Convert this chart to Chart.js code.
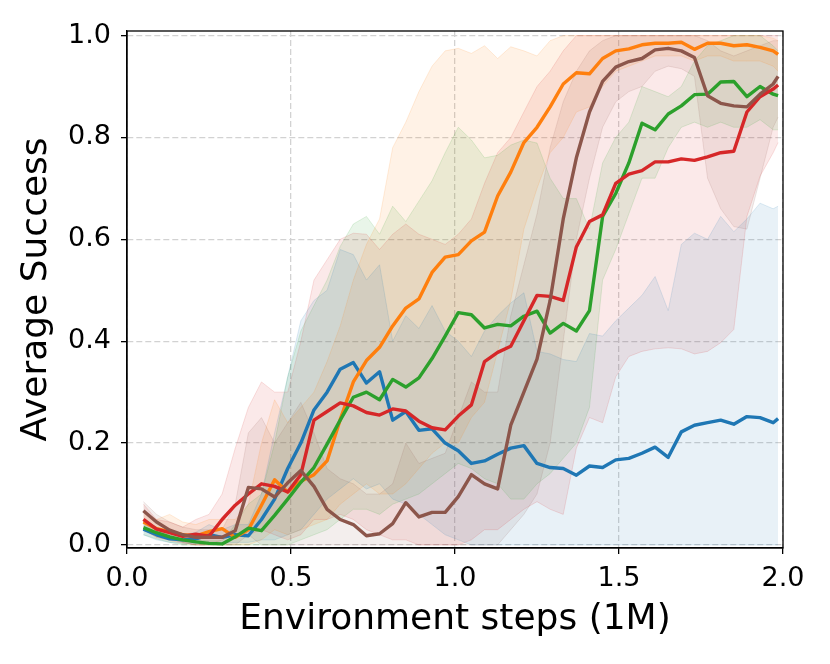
<!DOCTYPE html>
<html><head><meta charset="utf-8">
<script src="https://cdn.jsdelivr.net/npm/chart.js@4.4.1/dist/chart.umd.min.js"></script>
<style>html,body{margin:0;padding:0;background:#fff;} #wrap{width:830px;height:664px;}</style>
</head><body><div id="wrap"><canvas id="c" width="830" height="664"></canvas></div>
<script>
const steps = [0.05,0.09,0.13,0.17,0.21,0.25,0.29,0.33,0.37,0.41,0.45,0.49,0.53,0.57,0.61,0.65,0.69,0.73,0.77,0.81,0.85,0.89,0.93,0.97,1.01,1.05,1.09,1.13,1.17,1.21,1.25,1.29,1.33,1.37,1.41,1.45,1.49,1.53,1.57,1.61,1.65,1.69,1.73,1.77,1.81,1.85,1.89,1.93,1.97,1.985];

const blueMean = [0.031,0.02,0.012,0.01,0.012,0.02,0.015,0.02,0.018,0.05,0.09,0.15,0.2,0.265,0.3,0.345,0.358,0.318,0.34,0.245,0.262,0.225,0.228,0.2,0.185,0.16,0.165,0.178,0.19,0.195,0.16,0.152,0.15,0.137,0.155,0.152,0.167,0.17,0.18,0.192,0.172,0.222,0.235,0.24,0.245,0.237,0.252,0.25,0.24,0.248];
const blueLow = [0.02,0.01,0.005,0.003,0.003,0.005,0.003,0.005,0.005,0.01,0.01,0.02,0.03,0.06,0.09,0.11,0.13,0.11,0.12,0.09,0.08,0.06,0.04,0.02,0.01,0,0,0,0,0,0,0,0,0,0,0,0,0,0,0,0,0,0,0,0,0,0,0,0,0];
const blueHigh = [0.04,0.03,0.02,0.02,0.025,0.04,0.03,0.04,0.04,0.1,0.22,0.33,0.44,0.48,0.5,0.58,0.57,0.52,0.55,0.4,0.45,0.425,0.47,0.42,0.4,0.37,0.42,0.45,0.475,0.495,0.38,0.375,0.364,0.36,0.415,0.41,0.44,0.465,0.49,0.527,0.46,0.59,0.612,0.6,0.645,0.615,0.64,0.671,0.66,0.665];

const orangeMean = [0.045,0.032,0.026,0.02,0.018,0.026,0.032,0.015,0.03,0.078,0.128,0.104,0.125,0.138,0.165,0.246,0.32,0.362,0.388,0.43,0.465,0.483,0.535,0.565,0.57,0.597,0.614,0.685,0.732,0.79,0.82,0.86,0.905,0.927,0.925,0.955,0.97,0.974,0.982,0.985,0.985,0.987,0.973,0.985,0.985,0.98,0.982,0.977,0.97,0.963];
const orangeLow = [0.03,0.015,0.008,0.003,0,0,0,0,0,0.01,0.03,0.02,0.03,0.04,0.05,0.08,0.1,0.12,0.1,0.1,0.12,0.15,0.18,0.2,0.2,0.25,0.28,0.38,0.48,0.62,0.7,0.77,0.8,0.85,0.86,0.9,0.93,0.94,0.95,0.96,0.96,0.96,0.95,0.96,0.96,0.95,0.95,0.95,0.94,0.93];
const orangeHigh = [0.065,0.05,0.06,0.045,0.04,0.05,0.05,0.05,0.08,0.2,0.285,0.24,0.27,0.3,0.36,0.43,0.52,0.59,0.64,0.78,0.83,0.89,0.94,0.97,0.975,0.965,0.98,0.955,0.978,0.97,0.96,0.99,1,1,1,1,1,1,1,1,1,1,1,1,1,1,1,1,0.995,0.99];

const greenMean = [0.034,0.024,0.016,0.01,0.006,0.003,0.002,0.016,0.033,0.028,0.058,0.09,0.123,0.152,0.198,0.245,0.29,0.3,0.285,0.325,0.31,0.328,0.366,0.41,0.456,0.452,0.426,0.433,0.43,0.449,0.459,0.416,0.435,0.42,0.46,0.645,0.69,0.75,0.828,0.815,0.846,0.862,0.884,0.885,0.909,0.91,0.88,0.9,0.885,0.882];
const greenLow = [0.02,0.012,0.005,0,0,0,0,0,0,0,0,0,0.01,0.02,0.03,0.05,0.07,0.07,0.06,0.08,0.09,0.1,0.12,0.14,0.16,0.15,0.13,0.12,0.09,0.09,0.12,0.14,0.17,0.2,0.27,0.52,0.58,0.65,0.72,0.72,0.78,0.82,0.83,0.82,0.83,0.82,0.82,0.835,0.815,0.815];
const greenHigh = [0.05,0.035,0.025,0.015,0.01,0.008,0.008,0.04,0.08,0.1,0.2,0.33,0.42,0.47,0.52,0.586,0.63,0.645,0.61,0.665,0.635,0.675,0.715,0.77,0.82,0.795,0.76,0.765,0.785,0.795,0.789,0.72,0.68,0.68,0.62,0.75,0.8,0.83,0.9,0.89,0.88,0.9,0.95,0.98,0.99,1,1,1,0.98,0.97];

const redMean = [0.05,0.031,0.024,0.017,0.021,0.017,0.05,0.078,0.1,0.12,0.115,0.104,0.138,0.245,0.262,0.279,0.273,0.26,0.255,0.267,0.263,0.243,0.23,0.226,0.253,0.275,0.36,0.378,0.39,0.44,0.49,0.488,0.48,0.585,0.635,0.648,0.71,0.728,0.735,0.752,0.752,0.758,0.755,0.762,0.77,0.773,0.85,0.88,0.895,0.903];
const redLow = [0.03,0.015,0.01,0.005,0,0,0.01,0.02,0.02,0.03,0.02,0.01,0.02,0.05,0.05,0.06,0.05,0.03,0.02,0.01,0.01,0,0,0,0,0.01,0.03,0.03,0.05,0.07,0.085,0.07,0.06,0.19,0.25,0.24,0.33,0.37,0.38,0.385,0.387,0.385,0.375,0.38,0.397,0.423,0.645,0.724,0.77,0.79];
const redHigh = [0.08,0.05,0.045,0.035,0.05,0.06,0.1,0.19,0.27,0.32,0.3,0.3,0.4,0.52,0.56,0.6,0.612,0.61,0.58,0.61,0.63,0.61,0.6,0.59,0.61,0.64,0.71,0.77,0.8,0.85,0.9,0.93,0.97,1,1,1,1,1,1,1,1,1,1,1,1,1,1,1,1,1];

const brownMean = [0.067,0.045,0.029,0.02,0.015,0.015,0.015,0.028,0.113,0.11,0.094,0.122,0.146,0.115,0.07,0.05,0.04,0.018,0.022,0.042,0.083,0.055,0.064,0.064,0.095,0.138,0.12,0.11,0.235,0.3,0.365,0.48,0.64,0.76,0.85,0.91,0.938,0.949,0.955,0.972,0.975,0.97,0.957,0.882,0.867,0.862,0.86,0.885,0.905,0.92];
const brownLow = [0.05,0.03,0.015,0.005,0,0,0,0,0.02,0,0,0,0,0,0,0,0,0,0,0,0,0,0,0,0,0,0,0,0.03,0.06,0.1,0.2,0.4,0.6,0.72,0.82,0.87,0.89,0.9,0.93,0.94,0.935,0.92,0.72,0.66,0.625,0.62,0.72,0.82,0.84];
const brownHigh = [0.085,0.06,0.045,0.035,0.03,0.03,0.03,0.08,0.22,0.25,0.2,0.24,0.28,0.22,0.15,0.13,0.12,0.1,0.1,0.12,0.2,0.16,0.17,0.18,0.25,0.32,0.3,0.3,0.45,0.55,0.65,0.78,0.87,0.93,0.97,0.99,1,1,1,1,1,1,1,0.99,0.97,0.96,0.97,0.98,0.99,0.99];

const xTicks = [0.0, 0.5, 1.0, 1.5, 2.0];
const yTicks = [0.0, 0.2, 0.4, 0.6, 0.8, 1.0];
const xLabel = 'Environment steps (1M)';
const yLabel = 'Average Success';

const series = [
  {rgb: [31,119,180],  mean: blueMean,   low: blueLow,   high: blueHigh},
  {rgb: [255,127,14],  mean: orangeMean, low: orangeLow, high: orangeHigh},
  {rgb: [44,160,44],   mean: greenMean,  low: greenLow,  high: greenHigh},
  {rgb: [214,39,40],   mean: redMean,    low: redLow,    high: redHigh},
  {rgb: [140,86,75],   mean: brownMean,  low: brownLow,  high: brownHigh}
];

const pts = arr => steps.map((x, i) => ({x: x, y: arr[i]}));
const rgba = (c, a) => `rgba(${c[0]},${c[1]},${c[2]},${a})`;

const datasets = [];
series.forEach((s, k) => {
  const lowIdx = datasets.length;
  datasets.push({data: pts(s.low), borderColor: rgba(s.rgb, 0.14), borderWidth: 1, pointRadius: 0, fill: false, order: 20 + k});
  datasets.push({data: pts(s.high), borderColor: rgba(s.rgb, 0.14), borderWidth: 1, pointRadius: 0, fill: lowIdx, backgroundColor: rgba(s.rgb, 0.1), order: 20 + k});
});
series.forEach((s, k) => {
  datasets.push({data: pts(s.mean), borderColor: rgba(s.rgb, 1), borderWidth: 3.4, pointRadius: 0, fill: false, borderJoinStyle: 'round', order: series.length - k});
});

const FONT = 'DejaVu Sans';
const framePlugin = {
  id: 'frame',
  afterDraw(chart) {
    const {ctx, chartArea: a} = chart;
    ctx.save();
    ctx.strokeStyle = '#000';
    ctx.lineWidth = 1.3;
    ctx.strokeRect(a.left, a.top, a.right - a.left, a.bottom - a.top);
    ctx.restore();
  }
};

new Chart(document.getElementById('c'), {
  type: 'line',
  data: {datasets},
  plugins: [framePlugin],
  options: {
    responsive: false,
    animation: false,
    layout: {padding: {left: 0, right: 47, top: 31, bottom: 0}},
    elements: {line: {tension: 0}},
    plugins: {
      legend: {display: false},
      tooltip: {enabled: false},
      filler: {drawTime: 'beforeDatasetsDraw', propagate: false}
    },
    scales: {
      x: {
        type: 'linear', min: 0, max: 2,
        afterFit: s => { s.height = 116; },
        afterBuildTicks: s => { s.ticks = xTicks.map(v => ({value: v})); },
        ticks: {callback: v => Number(v).toFixed(1), font: {family: FONT, size: 27}, color: '#000', padding: 9, maxRotation: 0, autoSkip: false},
        grid: {color: '#d2d2d2', lineWidth: 1.3, tickLength: 6, tickColor: '#000', tickWidth: 1.3},
        border: {display: true, color: '#000', width: 1.3, dash: [6, 3]},
        title: {display: true, text: xLabel, font: {family: FONT, size: 36}, color: '#000', padding: {top: 0, bottom: 23}}
      },
      y: {
        type: 'linear', min: -0.006, max: 1.009,
        afterFit: s => { s.width = 127; },
        afterBuildTicks: s => { s.ticks = yTicks.map(v => ({value: v})); },
        ticks: {callback: v => Number(v).toFixed(1), font: {family: FONT, size: 27}, color: '#000', padding: 10, autoSkip: false},
        grid: {color: '#d2d2d2', lineWidth: 1.3, tickLength: 6, tickColor: '#000', tickWidth: 1.3},
        border: {display: true, color: '#000', width: 1.3, dash: [6, 3]},
        title: {display: true, text: yLabel, font: {family: FONT, size: 36}, color: '#000', padding: {top: 15, bottom: 0}}
      }
    }
  }
});
</script></body></html>
